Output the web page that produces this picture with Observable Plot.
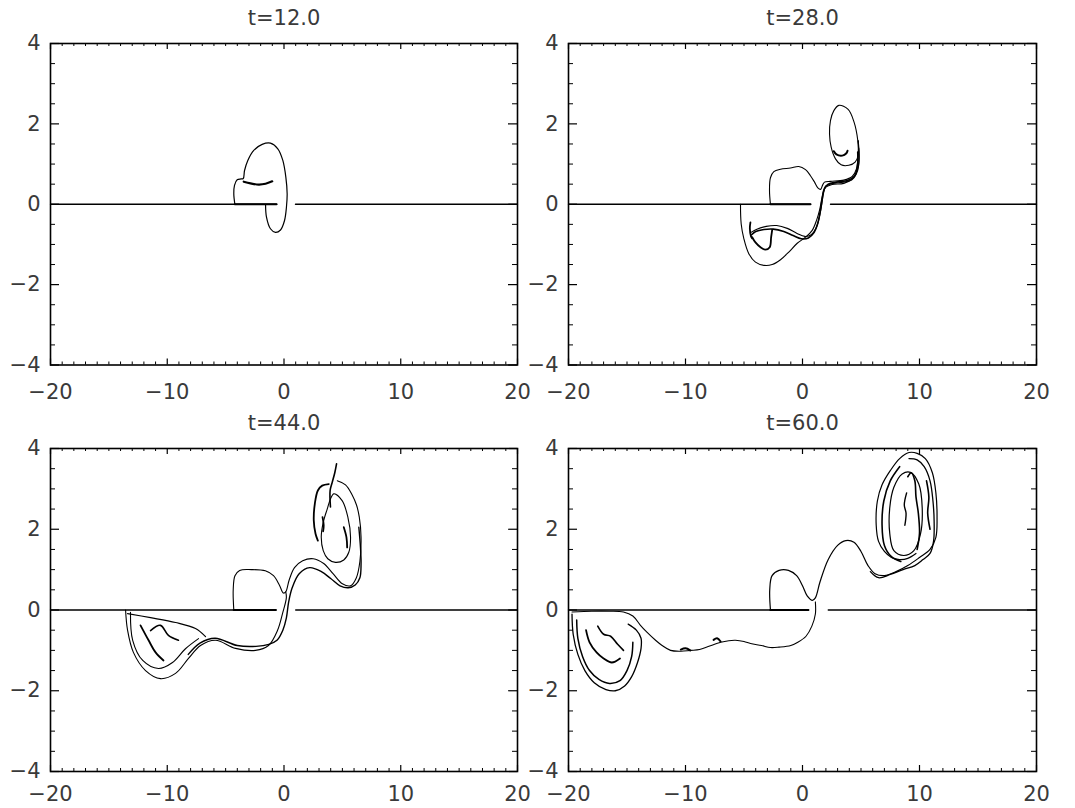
<!DOCTYPE html>
<html><head><meta charset="utf-8">
<script src="https://cdn.jsdelivr.net/npm/d3@7"></script>
<script src="https://cdn.jsdelivr.net/npm/@observablehq/plot@0.6"></script>
<style>
body{margin:0;background:#fff;}
#root{position:relative;width:1075px;height:808px;overflow:hidden;}
#root > svg{position:absolute;}
</style>
</head><body><div id="root"></div>
<script>
// ---- axes / ticks ----
const xMajor = [-20, -10, 0, 10, 20];
const xMinor = d3.range(-20, 21, 1).filter(v => v % 10 !== 0);
const yMajor = [-4, -2, 0, 2, 4];
const yMinor = d3.range(-4, 4.01, 0.5).filter(v => v % 2 !== 0);
const titles = ["t=12.0", "t=28.0", "t=44.0", "t=60.0"];

// ---- t = 12.0 ----
const t12Axis1 = [[-20,0],[-0.64,0]];
const t12Axis2 = [[0.98,0],[20,0]];
const t12AxisThick = [[-4.21,0],[-0.64,0]];
const t12Loop = [[-4.21,0],[-4.30,0.26],[-4.24,0.47],[-4.01,0.61],[-3.67,0.63],[-3.49,0.64],[-3.38,0.84],[-3.10,1.09],[-2.59,1.34],[-1.87,1.49],[-1.16,1.52],[-0.53,1.38],[-0.10,1.09],[0.16,0.67],[0.27,0.26],[0.21,-0.07],[0.04,-0.41],[-0.30,-0.64],[-0.73,-0.70],[-1.16,-0.61],[-1.50,-0.32],[-1.58,-0.01]];
const t12Arc = [[-3.45,0.56],[-2.87,0.52],[-2.16,0.49],[-1.58,0.51],[-1.01,0.57]];

// ---- t = 28.0 ----
const t28Axis1 = [[-20,0],[0.68,0]];
const t28Axis2 = [[2.39,0],[20,0]];
const t28AxisThick = [[-2.74,0],[0.68,0]];
const t28Outer = [[-5.30,0],[-5.24,-0.49],[-5.01,-0.86],[-4.59,-1.23],[-4.02,-1.44],[-3.30,-1.52],[-2.59,-1.50],[-1.88,-1.38],[-1.17,-1.19],[-0.45,-0.97],[0.26,-0.82],[0.83,-0.65],[1.20,-0.40],[1.48,-0.12],[1.71,0.22],[1.97,0.42],[2.54,0.49],[3.53,0.52],[4.25,0.63],[4.67,0.84],[4.84,1.17],[4.76,1.58]];
const t28Ellipse = [[3.11,2.46],[3.9,2.36],[4.4,2.05],[4.72,1.6],[4.78,1.25],[4.5,1.05],[3.96,0.97],[3.30,0.98],[2.82,1.13],[2.45,1.42],[2.31,1.75],[2.39,2.08],[2.68,2.33]];
const t28Bump = [[-2.74,0],[-2.82,0.34],[-2.74,0.66],[-2.45,0.81],[-1.88,0.87],[-1.03,0.90],[-0.32,0.94],[0.26,0.86],[0.68,0.71],[1.03,0.55],[1.31,0.41],[1.54,0.37],[1.71,0.47],[1.88,0.55],[2.39,0.57],[3.53,0.60],[4.25,0.69],[4.61,0.88],[4.76,1.25],[4.76,1.58]];
const t28BandB = [[4.80,1.4],[4.82,1.0],[4.6,0.75],[4.2,0.6],[3.5,0.55],[2.5,0.51],[2.0,0.45],[1.78,0.25],[1.62,-0.05],[1.42,-0.35],[1.15,-0.6],[0.75,-0.76],[0.2,-0.8],[-0.5,-0.72],[-1.3,-0.6],[-2.2,-0.53],[-3.1,-0.55],[-3.9,-0.62],[-4.4,-0.7]];
const t28BandC = [[4.72,1.3],[4.7,0.95],[4.45,0.7],[3.9,0.6],[2.9,0.55],[2.2,0.5],[1.85,0.38],[1.68,0.12],[1.5,-0.2],[1.3,-0.48],[1.0,-0.7],[0.5,-0.84],[-0.1,-0.86],[-0.8,-0.78],[-1.6,-0.68],[-2.5,-0.62],[-3.3,-0.63],[-4.0,-0.68],[-4.35,-0.76]];
const t28Hook = [[-4.45,-0.45],[-4.5,-0.6],[-4.4,-0.8],[-4.3,-0.85]];
const t28Jag = [[-4.30,-0.82],[-4.02,-0.95],[-3.59,-1.07],[-3.16,-1.13],[-2.80,-1.07],[-2.68,-0.82],[-2.59,-0.64]];
const t28Smile = [[2.68,1.32],[2.9,1.24],[3.4,1.21],[3.75,1.27],[3.85,1.33]];

// ---- t = 44.0 ----
const t44Axis1 = [[-20,0],[-0.7,0]];
const t44Axis2 = [[1.0,0],[20,0]];
const t44AxisThick = [[-4.3,0],[-0.7,0]];
const t44Bump = [[-4.3,0],[-4.35,0.5],[-4.2,0.85],[-3.8,0.98],[-2.8,1.0],[-1.6,0.97],[-0.9,0.85],[-0.4,0.62],[-0.05,0.42],[0.15,0.45],[0.45,0.75],[0.9,1.05],[1.6,1.22],[2.5,1.27],[3.4,1.15],[4.2,0.9],[5.0,0.65],[5.7,0.6],[6.2,0.8],[6.5,1.2],[6.6,1.8],[6.45,2.3],[6.21,2.6],[5.84,2.85],[5.27,3.1],[4.56,3.2]];
const t44Band = [[6.41,2.05],[6.55,1.55],[6.6,1.14],[6.5,0.8],[6.1,0.62],[5.5,0.55],[4.8,0.6],[4.0,0.78],[3.2,0.95],[2.2,1.05],[1.3,0.9],[0.7,0.55],[0.4,0.2],[0.2,-0.2],[-0.1,-0.5],[-0.6,-0.75],[-1.3,-0.85],[-2.4,-0.9],[-4.0,-0.88],[-5.9,-0.7],[-7.2,-0.82],[-8.2,-1.1]];
const t44Outer = [[-13.57,0],[-13.4,-0.5],[-12.9,-1.05],[-11.86,-1.5],[-10.58,-1.70],[-9.29,-1.57],[-8.18,-1.2],[-7.15,-0.88],[-5.87,-0.75],[-4.15,-0.95],[-2.44,-1.0],[-1.33,-0.88],[-0.56,-0.51],[-0.1,-0.06],[0.2,0.3],[0.15,0.45]];
const t44Loop2 = [[-13.15,-0.06],[-12.96,-0.75],[-12.1,-1.25],[-10.75,-1.45],[-9.55,-1.3],[-8.44,-0.96],[-7.32,-0.71]];
const t44Inner = [[-13.4,-0.09],[-11.43,-0.19],[-9.29,-0.31],[-7.58,-0.46],[-6.72,-0.66]];
const t44Jag1 = [[-12.29,-0.38],[-11.6,-0.75],[-11.0,-1.05],[-10.32,-1.25]];
const t44Jag2 = [[-11.43,-0.51],[-10.58,-0.38],[-9.9,-0.63],[-9.04,-0.75]];
const t44Spike = [[4.5,3.62],[4.35,3.4],[4.13,3.16],[3.95,2.96],[3.98,2.55]];
const t44LeftArc = [[3.84,3.12],[3.27,3.08],[2.9,2.96],[2.64,2.63],[2.55,2.22],[2.7,1.89],[2.9,1.72]];
const t44Ellipse = [[4.27,2.88],[4.98,2.71],[5.47,2.30],[5.7,1.80],[5.55,1.43],[5.12,1.24],[4.41,1.18],[3.75,1.27],[3.36,1.47],[3.19,1.80],[3.36,2.17],[3.70,2.50],[3.98,2.75]];
const t44Bit1 = [[3.3,2.3],[3.4,2.1],[3.35,1.95]];
const t44Bit2 = [[5.12,2.05],[5.35,1.80],[5.41,1.55]];

// ---- t = 60.0 ----
const t60Axis1 = [[-20,0],[0.5,0]];
const t60Axis2 = [[2.2,0],[20,0]];
const t60AxisThick = [[-2.74,0],[0.5,0]];
const t60Bump = [[-2.74,0],[-2.8,0.5],[-2.6,0.85],[-2.0,0.98],[-1.2,0.98],[-0.5,0.85],[0.0,0.6],[0.4,0.35],[0.85,0.24],[1.1,0.3],[1.5,0.7],[2.2,1.25],[3.0,1.6],[3.7,1.72],[4.4,1.68],[5.0,1.45],[5.6,1.1],[6.2,0.9],[7.0,0.85],[8.0,0.95],[9.0,1.1],[10.0,1.3],[10.9,1.5],[11.4,1.8],[11.5,2.3],[11.4,2.9],[11.1,3.4],[10.5,3.75],[9.8,3.88],[9.1,3.9],[8.3,3.75],[7.5,3.45],[6.8,3.1],[6.4,2.7],[6.3,2.1],[6.5,1.7],[7.0,1.45],[7.6,1.3],[8.3,1.25],[9.0,1.28],[9.7,1.4]];
const t60Loop2 = [[9.1,3.75],[9.8,3.72],[10.4,3.55],[10.9,3.2],[11.15,2.7],[11.25,2.2],[11.2,1.7],[10.9,1.4],[10.3,1.25],[9.6,1.1],[8.6,1.0],[7.5,0.88],[6.5,0.8],[5.8,0.95]];
const t60Ellipse = [[9.23,3.41],[9.94,3.12],[10.23,2.54],[10.09,1.89],[9.52,1.47],[8.66,1.35],[7.81,1.47],[7.46,1.89],[7.46,2.54],[7.81,3.04],[8.52,3.37]];
const t60Mid = [[8.3,3.55],[7.5,3.2],[6.95,2.7],[6.8,2.1],[7.0,1.6],[7.6,1.32],[8.4,1.2]];
const t60Jag1 = [[9.0,3.3],[9.3,3.4],[9.6,3.2],[9.7,2.8],[9.9,2.4],[10.0,1.9],[9.8,1.5]];
const t60Jag2 = [[10.6,3.2],[10.8,2.8],[10.7,2.4],[10.9,2.0]];
const t60Jag3 = [[8.9,2.9],[8.7,2.6],[8.85,2.4],[8.75,2.1]];
const t60Lower = [[1.1,0.2],[1.1,-0.1],[0.8,-0.4],[0.3,-0.65],[-0.4,-0.8],[-1.0,-0.88],[-2.0,-0.92],[-2.74,-0.93],[-3.5,-0.88],[-4.44,-0.83],[-5.0,-0.78],[-5.73,-0.75],[-6.3,-0.76],[-7.0,-0.8],[-8.0,-0.9],[-8.8,-0.98],[-9.57,-1.0],[-10.4,-1.02],[-11.28,-1.0],[-12.0,-0.88],[-12.56,-0.75],[-13.3,-0.55],[-13.85,-0.38],[-14.5,-0.15],[-15.3,-0.05],[-16.5,-0.03],[-18,-0.03],[-19.7,-0.05]];
const t60Loop1 = [[-19.7,-0.1],[-19.6,-0.6],[-19.2,-1.1],[-18.6,-1.5],[-17.8,-1.8],[-16.8,-1.97],[-16.0,-2.0],[-15.2,-1.88],[-14.6,-1.65],[-14.1,-1.3],[-13.8,-0.95],[-13.8,-0.7],[-14.2,-0.5],[-14.9,-0.35]];
const t60Loop3 = [[-19.3,-0.25],[-19.2,-0.7],[-18.8,-1.15],[-18.2,-1.5],[-17.4,-1.72],[-16.5,-1.82],[-15.6,-1.75],[-15.0,-1.5],[-14.6,-1.15],[-14.5,-0.8]];
const t60Jag1L = [[-18.5,-0.5],[-18.2,-0.8],[-17.6,-1.05],[-17.0,-1.2],[-16.3,-1.3],[-15.6,-1.2]];
const t60Jag2L = [[-17.5,-0.4],[-17.0,-0.6],[-16.4,-0.65],[-15.8,-0.85],[-15.3,-1.0]];
const t60Bits = [[-10.4,-0.98],[-10.0,-0.95],[-9.6,-1.0]];
const t60Bits2 = [[-7.6,-0.74],[-7.3,-0.7],[-7.0,-0.78]];

const panels = [
  {title: titles[0], left: 0, top: 0, curves: [
    [t12Axis1,1.3],[t12Axis2,1.3],[t12AxisThick,2.2],[t12Loop,1.2],[t12Arc,2.2]]},
  {title: titles[1], left: 537, top: 0, curves: [
    [t28Axis1,1.3],[t28Axis2,1.3],[t28AxisThick,2.2],[t28Outer,1.1],[t28Ellipse,1.1,true],[t28Bump,1.1],[t28BandB,1.1],[t28BandC,1.6],[t28Hook,1.8],[t28Jag,1.8],[t28Smile,2]]},
  {title: titles[2], left: 0, top: 404, curves: [
    [t44Axis1,1.3],[t44Axis2,1.3],[t44AxisThick,2.2],[t44Bump,1.1],[t44Band,1.4],[t44Outer,1.1],[t44Loop2,1.1],[t44Inner,1.2],[t44Jag1,1.8],[t44Jag2,1.6],[t44Spike,1.6],[t44LeftArc,1.8],[t44Ellipse,1.1,true],[t44Bit1,1.8],[t44Bit2,1.8]]},
  {title: titles[3], left: 537, top: 404, curves: [
    [t60Axis1,1.3],[t60Axis2,1.3],[t60AxisThick,2.2],[t60Bump,1.2],[t60Loop2,1.3],[t60Ellipse,1.2,true],[t60Mid,1.6],[t60Jag1,1.6],[t60Jag2,1.6],[t60Jag3,1.4],[t60Lower,1.1],[t60Loop1,1.3],[t60Loop3,1.5],[t60Jag1L,1.8],[t60Jag2L,1.6],[t60Bits,2],[t60Bits2,2]]}
];

const FONT = "'DejaVu Sans', sans-serif";
const fmt = d => d < 0 ? "\u2212" + (-d) : String(d);

for (const p of panels) {
  const isLeft = p.left === 0, isTop = p.top === 0;
  const width = isLeft ? 537 : 538;
  const height = 404;
  const ml = isLeft ? 50 : 31, mr = isLeft ? 20 : 39;
  const mt = isTop ? 43 : 44, mb = isTop ? 39.5 : 37;
  const iw = width - ml - mr, ih = height - mt - mb;
  const marks = [];
  for (const [pts, w, closed] of p.curves) {
    marks.push(Plot.line(pts, {x: d => d[0], y: d => d[1], stroke: "#000", strokeWidth: w,
      curve: closed ? "catmull-rom-closed" : "catmull-rom"}));
  }
  // inward ticks on all four sides
  marks.push(Plot.ruleX(xMajor, {x: d => d, insetTop: ih - 6, strokeWidth: 1.2}));
  marks.push(Plot.ruleX(xMajor, {x: d => d, insetBottom: ih - 6, strokeWidth: 1.2}));
  marks.push(Plot.ruleX(xMinor, {x: d => d, insetTop: ih - 3, strokeWidth: 1}));
  marks.push(Plot.ruleX(xMinor, {x: d => d, insetBottom: ih - 3, strokeWidth: 1}));
  marks.push(Plot.ruleY(yMajor, {y: d => d, insetRight: iw - 9, strokeWidth: 1.2}));
  marks.push(Plot.ruleY(yMajor, {y: d => d, insetLeft: iw - 9, strokeWidth: 1.2}));
  marks.push(Plot.ruleY(yMinor, {y: d => d, insetRight: iw - 5, strokeWidth: 1}));
  marks.push(Plot.ruleY(yMinor, {y: d => d, insetLeft: iw - 5, strokeWidth: 1}));
  marks.push(Plot.frame({stroke: "#000", strokeWidth: 1.6}));
  marks.push(Plot.text(xMajor, {x: d => d, text: fmt, frameAnchor: "bottom", lineAnchor: "middle", dy: isTop ? 27 : 23, fontSize: 21, fill: "#3a3a3a"}));
  marks.push(Plot.text(yMajor, {y: d => d, text: fmt, frameAnchor: "left", lineAnchor: "middle", dx: -10, textAnchor: "end", fontSize: 21, fill: "#3a3a3a"}));
  marks.push(Plot.text([p.title], {text: d => d, frameAnchor: "top", lineAnchor: "middle", dy: -25, fontSize: 21, fill: "#3a3a3a"}));
  const svg = Plot.plot({
    width, height, marginLeft: ml, marginRight: mr, marginTop: mt, marginBottom: mb,
    x: {domain: [-20, 20], axis: null},
    y: {domain: [-4, 4], axis: null},
    style: {fontFamily: FONT, background: "transparent", overflow: "visible"},
    marks
  });
  svg.style.left = p.left + "px";
  svg.style.top = p.top + "px";
  document.getElementById("root").appendChild(svg);
}
</script>
</body></html>
